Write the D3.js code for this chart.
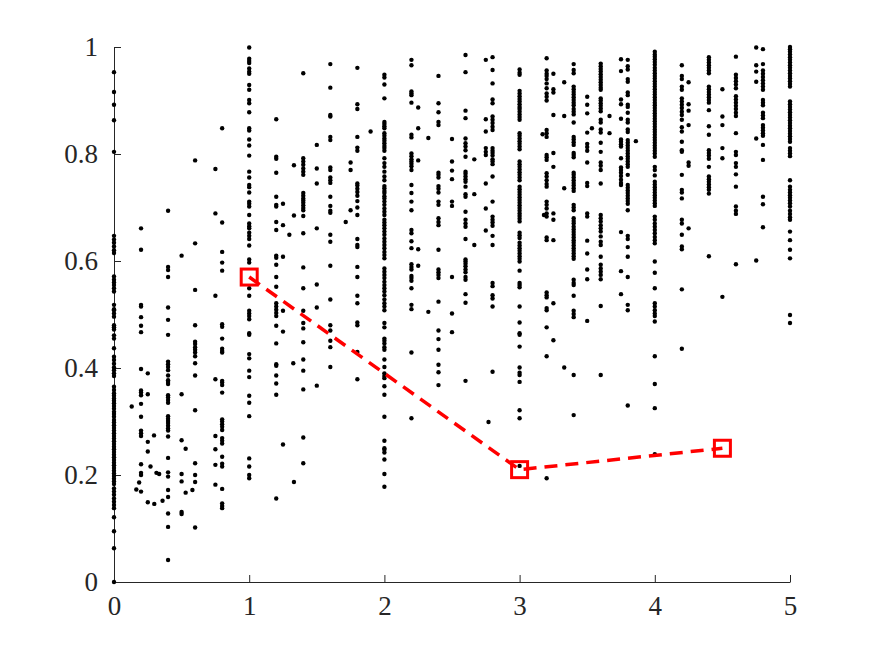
<!DOCTYPE html>
<html>
<head>
<meta charset="utf-8">
<script src="https://cdn.jsdelivr.net/npm/d3@7"></script>
<style>
  body { margin: 0; background: #fff; }
  svg { display: block; }
</style>
</head>
<body>
<svg width="872" height="654"></svg>
<script>
// x positions of the vertical columns of dots
const columnX = [0, 0.2, 0.25, 0.4, 0.5, 0.6, 0.75, 0.8, 1, 1.2, 1.25, 1.4, 1.5, 1.6, 1.75, 1.8,
    2, 2.2, 2.25, 2.4, 2.5, 2.6, 2.75, 2.8, 3, 3.2, 3.25, 3.4, 3.5, 3.6, 3.75, 3.8,
    4, 4.2, 4.25, 4.4, 4.5, 4.6, 4.75, 4.8, 5];

// y values of each column (same order as columnX)
const columnY = [
    [0.953,0.916,0.892,0.863,0.804,0.647,0.640,0.634,0.627,0.620,0.615,0.571,0.565,0.560,0.555,0.549,0.543,0.518,0.510,0.508,0.502,0.496,0.480,0.476,0.472,0.461,0.455,0.437,0.421,0.415,0.408,0.401,0.396,0.390,0.385,0.365,0.359,0.353,0.348,0.343,0.339,0.334,0.329,0.324,0.318,0.314,0.309,0.303,0.298,0.293,0.288,0.283,0.278,0.273,0.268,0.263,0.258,0.253,0.248,0.243,0.238,0.233,0.228,0.223,0.218,0.213,0.208,0.203,0.198,0.193,0.188,0.183,0.175,0.169,0.163,0.156,0.150,0.144,0.138,0.121,0.095,0.063,0.0],
    [0.661,0.621,0.518,0.515,0.495,0.479,0.467,0.398,0.358,0.354,0.349,0.333,0.309,0.283,0.278,0.273,0.220,0.204,0.200,0.169],
    [0.390,0.351,0.262,0.244,0.149],
    [0.694,0.589,0.583,0.570,0.513,0.490,0.462,0.412,0.407,0.402,0.396,0.386,0.377,0.374,0.370,0.349,0.345,0.340,0.335,0.310,0.305,0.301,0.297,0.292,0.287,0.283,0.272,0.232,0.205,0.197,0.172,0.159,0.128,0.103,0.041],
    [0.610,0.351,0.265,0.202,0.188,0.131,0.127],
    [0.788,0.633,0.546,0.480,0.449,0.445,0.439,0.434,0.429,0.422,0.409,0.386,0.321,0.222,0.200,0.187,0.102],
    [0.772,0.689,0.535,0.379,0.273,0.248,0.219,0.182],
    [0.848,0.672,0.617,0.597,0.582,0.482,0.477,0.455,0.436,0.432,0.429,0.376,0.373,0.368,0.354,0.304,0.300,0.295,0.290,0.284,0.269,0.264,0.259,0.234,0.221,0.216,0.174,0.147,0.142,0.138],
    [0.999,0.978,0.974,0.970,0.960,0.954,0.950,0.929,0.920,0.901,0.895,0.878,0.848,0.844,0.827,0.816,0.797,0.767,0.756,0.742,0.738,0.728,0.711,0.707,0.702,0.686,0.670,0.665,0.661,0.653,0.647,0.641,0.629,0.603,0.597,0.549,0.535,0.507,0.502,0.497,0.491,0.465,0.462,0.426,0.418,0.395,0.383,0.348,0.335,0.310,0.231,0.216,0.200,0.194],
    [0.865,0.795,0.791,0.765,0.720,0.705,0.702,0.673,0.658,0.610,0.606,0.593,0.570,0.552,0.521,0.515,0.509,0.503,0.497,0.479,0.446,0.407,0.404,0.386,0.371,0.350,0.156],
    [0.707,0.667,0.608,0.507,0.468,0.257],
    [0.951,0.792,0.786,0.780,0.773,0.767,0.761,0.727,0.722,0.717,0.713,0.709,0.704,0.699,0.695,0.684,0.652,0.588,0.549,0.507,0.484,0.474,0.448,0.416,0.395,0.360,0.270,0.222],
    [0.817,0.773,0.745,0.661,0.556,0.513,0.367],
    [0.968,0.924,0.873,0.870,0.832,0.826,0.775,0.770,0.756,0.751,0.746,0.720,0.703,0.694,0.690,0.649,0.636,0.591,0.528,0.480,0.470,0.451,0.439,0.402],
    [0.784,0.770,0.695],
    [0.961,0.893,0.884,0.832,0.812,0.806,0.745,0.741,0.735,0.729,0.722,0.712,0.700,0.686,0.641,0.630,0.626,0.589,0.570,0.535,0.521,0.485,0.480,0.430,0.379],
    [0.948,0.943,0.930,0.904,0.860,0.856,0.852,0.848,0.839,0.834,0.829,0.825,0.820,0.815,0.811,0.806,0.792,0.783,0.776,0.767,0.758,0.751,0.740,0.736,0.731,0.727,0.721,0.717,0.711,0.705,0.698,0.692,0.686,0.677,0.672,0.667,0.661,0.655,0.649,0.642,0.636,0.630,0.624,0.617,0.611,0.605,0.586,0.580,0.574,0.568,0.561,0.555,0.549,0.543,0.536,0.528,0.521,0.515,0.508,0.484,0.476,0.455,0.451,0.446,0.439,0.434,0.416,0.402,0.390,0.385,0.381,0.366,0.350,0.309,0.264,0.250,0.247,0.242,0.229,0.202,0.178],
    [0.976,0.966,0.917,0.913,0.910,0.896,0.836,0.831,0.801,0.796,0.790,0.786,0.782,0.777,0.770,0.742,0.727,0.711,0.695,0.658,0.652,0.637,0.624,0.594,0.589,0.584,0.572,0.568,0.563,0.549,0.518,0.510,0.429,0.306],
    [0.887,0.848,0.788,0.622,0.591],
    [0.946,0.895,0.878,0.860,0.854,0.765,0.761,0.756,0.740,0.735,0.728,0.711,0.705,0.680,0.673,0.667,0.621,0.584,0.579,0.574,0.568,0.524,0.470,0.454,0.434,0.406,0.392,0.368],
    [0.828,0.786,0.769,0.753,0.711,0.703,0.570,0.502,0.467],
    [0.985,0.953,0.881,0.867,0.829,0.820,0.814,0.807,0.795,0.767,0.763,0.758,0.753,0.748,0.739,0.725,0.720,0.692,0.677,0.670,0.664,0.641,0.603,0.599,0.595,0.590,0.584,0.579,0.570,0.565,0.538,0.522,0.376],
    [0.976,0.865,0.842,0.811,0.804,0.798,0.745,0.698,0.657],
    [0.981,0.957,0.932,0.902,0.895,0.870,0.864,0.858,0.851,0.845,0.811,0.806,0.802,0.797,0.790,0.786,0.781,0.758,0.711,0.683,0.677,0.672,0.666,0.647,0.630,0.559,0.553,0.536,0.530,0.515,0.393],
    [0.958,0.952,0.948,0.918,0.913,0.908,0.903,0.898,0.893,0.888,0.884,0.879,0.874,0.869,0.864,0.839,0.834,0.829,0.824,0.819,0.814,0.809,0.786,0.781,0.776,0.771,0.766,0.761,0.756,0.751,0.739,0.734,0.729,0.724,0.719,0.714,0.709,0.704,0.699,0.694,0.689,0.684,0.679,0.674,0.653,0.648,0.643,0.634,0.629,0.624,0.619,0.614,0.609,0.604,0.599,0.582,0.559,0.555,0.551,0.515,0.485,0.465,0.462,0.440,0.401,0.391,0.387,0.374,0.321,0.306,0.217],
    [0.979,0.956,0.950,0.946,0.940,0.932,0.923,0.913,0.907,0.900,0.845,0.839,0.832,0.798,0.794,0.789,0.764,0.758,0.751,0.744,0.739,0.711,0.705,0.698,0.689,0.683,0.644,0.639,0.541,0.536,0.532,0.512,0.508,0.476,0.422,0.194],
    [0.950,0.921,0.915,0.873,0.802,0.776,0.689,0.677,0.639,0.521,0.452],
    [0.968,0.957,0.951,0.926,0.921,0.916,0.911,0.906,0.901,0.896,0.891,0.884,0.879,0.874,0.859,0.832,0.827,0.822,0.817,0.802,0.798,0.794,0.765,0.761,0.756,0.751,0.746,0.741,0.736,0.731,0.705,0.700,0.695,0.680,0.675,0.670,0.664,0.659,0.654,0.649,0.644,0.639,0.634,0.629,0.624,0.619,0.614,0.609,0.604,0.565,0.559,0.555,0.535,0.507,0.501,0.495,0.387,0.312],
    [0.907,0.892,0.876,0.840,0.819,0.813,0.806,0.784,0.746,0.740,0.689,0.683,0.638,0.614,0.584,0.566,0.488],
    [0.969,0.964,0.959,0.954,0.949,0.944,0.939,0.934,0.929,0.924,0.920,0.904,0.900,0.895,0.890,0.885,0.880,0.864,0.859,0.846,0.840,0.821,0.804,0.784,0.778,0.770,0.745,0.686,0.680,0.674,0.667,0.661,0.655,0.646,0.636,0.630,0.608,0.593,0.586,0.580,0.574,0.566,0.516,0.387],
    [0.977,0.955,0.902,0.893,0.866,0.827,0.823,0.818,0.814,0.792,0.775,0.770,0.765,0.759,0.752,0.746,0.742,0.654,0.581,0.538],
    [0.976,0.964,0.958,0.940,0.935,0.915,0.910,0.892,0.888,0.877,0.864,0.859,0.846,0.841,0.826,0.821,0.816,0.811,0.806,0.801,0.796,0.791,0.786,0.781,0.776,0.761,0.742,0.737,0.732,0.727,0.722,0.717,0.712,0.707,0.695,0.647,0.641,0.626,0.608,0.570,0.518,0.508,0.330],
    [0.991,0.986,0.982,0.977,0.972,0.967,0.961,0.956,0.951,0.946,0.941,0.936,0.931,0.926,0.921,0.916,0.911,0.906,0.901,0.896,0.891,0.886,0.881,0.876,0.871,0.866,0.861,0.856,0.851,0.846,0.841,0.836,0.831,0.826,0.821,0.816,0.811,0.806,0.801,0.795,0.776,0.770,0.760,0.748,0.743,0.738,0.733,0.728,0.723,0.718,0.713,0.708,0.703,0.683,0.677,0.670,0.664,0.658,0.652,0.645,0.639,0.633,0.599,0.578,0.549,0.521,0.515,0.508,0.502,0.497,0.487,0.422,0.370,0.325,0.239],
    [0.966,0.946,0.940,0.926,0.920,0.904,0.898,0.892,0.886,0.879,0.873,0.864,0.850,0.842,0.823,0.807,0.804,0.761,0.733,0.728,0.717,0.677,0.670,0.649,0.627,0.622,0.547,0.436],
    [0.934,0.893,0.881,0.854,0.784,0.778,0.661],
    [0.981,0.976,0.971,0.966,0.961,0.956,0.951,0.926,0.921,0.916,0.911,0.906,0.901,0.896,0.882,0.852,0.836,0.807,0.802,0.797,0.791,0.776,0.758,0.753,0.748,0.743,0.738,0.733,0.726,0.609],
    [0.921,0.870,0.854,0.811,0.792,0.533],
    [0.982,0.948,0.942,0.936,0.930,0.923,0.908,0.902,0.896,0.890,0.884,0.877,0.871,0.839,0.804,0.798,0.783,0.776,0.762,0.739,0.702,0.694,0.688,0.594],
    [0.999,0.966,0.954,0.935,0.829,0.601],
    [0.996,0.968,0.956,0.950,0.944,0.938,0.932,0.926,0.920,0.901,0.896,0.891,0.877,0.872,0.867,0.854,0.849,0.844,0.839,0.834,0.817,0.789,0.720,0.706,0.663],
    [1.0,0.996,0.991,0.986,0.981,0.976,0.971,0.966,0.961,0.956,0.951,0.946,0.941,0.936,0.931,0.926,0.898,0.893,0.888,0.883,0.878,0.873,0.868,0.863,0.858,0.853,0.848,0.843,0.838,0.833,0.828,0.823,0.811,0.806,0.801,0.796,0.751,0.739,0.733,0.728,0.723,0.718,0.713,0.708,0.702,0.694,0.688,0.682,0.677,0.655,0.639,0.621,0.605,0.499,0.484]
];

// dots that sit between the columns
const strayX = [0.131,0.165,0.186,0.27,0.296,0.298,0.314,0.334,0.359,0.53,0.53,0.58,1.297,1.331,1.331,1.326,1.331,1.714,1.898,2.325,2.325,2.665,2.665,2.665,2.77,3.17,3.18,3.33,3.33,3.33,3.33,3.535,3.665,3.665,3.86];
const strayY = [0.328,0.173,0.186,0.216,0.274,0.146,0.204,0.202,0.152,0.249,0.167,0.172,0.649,0.779,0.685,0.409,0.187,0.673,0.842,0.830,0.505,0.790,0.725,0.630,0.299,0.837,0.686,0.934,0.871,0.736,0.401,0.848,0.871,0.839,0.824];

// red dashed line with square markers
const lineX = [1, 3, 4.5];
const lineY = [0.57, 0.21, 0.25];

const xTicks = [0, 1, 2, 3, 4, 5];
const yTicks = [0, 0.2, 0.4, 0.6, 0.8, 1];

const svg = d3.select("svg");
const plotLeft = 114, plotRight = 790, plotTop = 47, plotBottom = 582;

const x = d3.scaleLinear().domain([0, 5]).range([plotLeft, plotRight]);
const y = d3.scaleLinear().domain([0, 1]).range([plotBottom, plotTop]);

const dots = [];
columnX.forEach((cx, i) => columnY[i].forEach(v => dots.push([cx, v])));
strayX.forEach((sx, i) => dots.push([sx, strayY[i]]));

const axisColor = "#262626";

// axes
const xAxis = svg.append("g")
    .attr("transform", `translate(0,${plotBottom})`)
    .call(d3.axisBottom(x).tickValues(xTicks).tickSizeInner(-7).tickSizeOuter(0).tickPadding(14).tickFormat(d3.format("d")));

const yAxis = svg.append("g")
    .attr("transform", `translate(${plotLeft},0)`)
    .call(d3.axisLeft(y).tickValues(yTicks).tickSizeInner(-7).tickSizeOuter(0).tickPadding(16).tickFormat(d => d === 0 || d === 1 ? d : d.toFixed(1)));

[xAxis, yAxis].forEach(a => {
    a.select(".domain").attr("stroke", axisColor).attr("stroke-width", 1);
    a.selectAll(".tick line").attr("stroke", axisColor);
    a.selectAll(".tick text")
        .attr("fill", axisColor)
        .style("font-family", "Liberation Serif")
        .style("font-size", "27px");
});
xAxis.selectAll(".tick text").attr("dy", "0.72em");
yAxis.selectAll(".tick text").attr("dy", "0.33em");

// scatter dots
svg.append("g")
    .selectAll("circle")
    .data(dots)
    .enter()
    .append("circle")
    .attr("cx", d => x(d[0]))
    .attr("cy", d => y(d[1]))
    .attr("r", 2.2)
    .attr("fill", "#000");

// red dashed line
const lineData = lineX.map((v, i) => [v, lineY[i]]);
svg.append("path")
    .datum(lineData)
    .attr("d", d3.line().x(d => x(d[0])).y(d => y(d[1])))
    .attr("fill", "none")
    .attr("stroke", "#ff0000")
    .attr("stroke-width", 3.5)
    .attr("stroke-dasharray", "13,8");

svg.append("g")
    .selectAll("rect")
    .data(lineData)
    .enter()
    .append("rect")
    .attr("x", d => x(d[0]) - 8)
    .attr("y", d => y(d[1]) - 8)
    .attr("width", 16)
    .attr("height", 16)
    .attr("fill", "none")
    .attr("stroke", "#ff0000")
    .attr("stroke-width", 3);
</script>
</body>
</html>
